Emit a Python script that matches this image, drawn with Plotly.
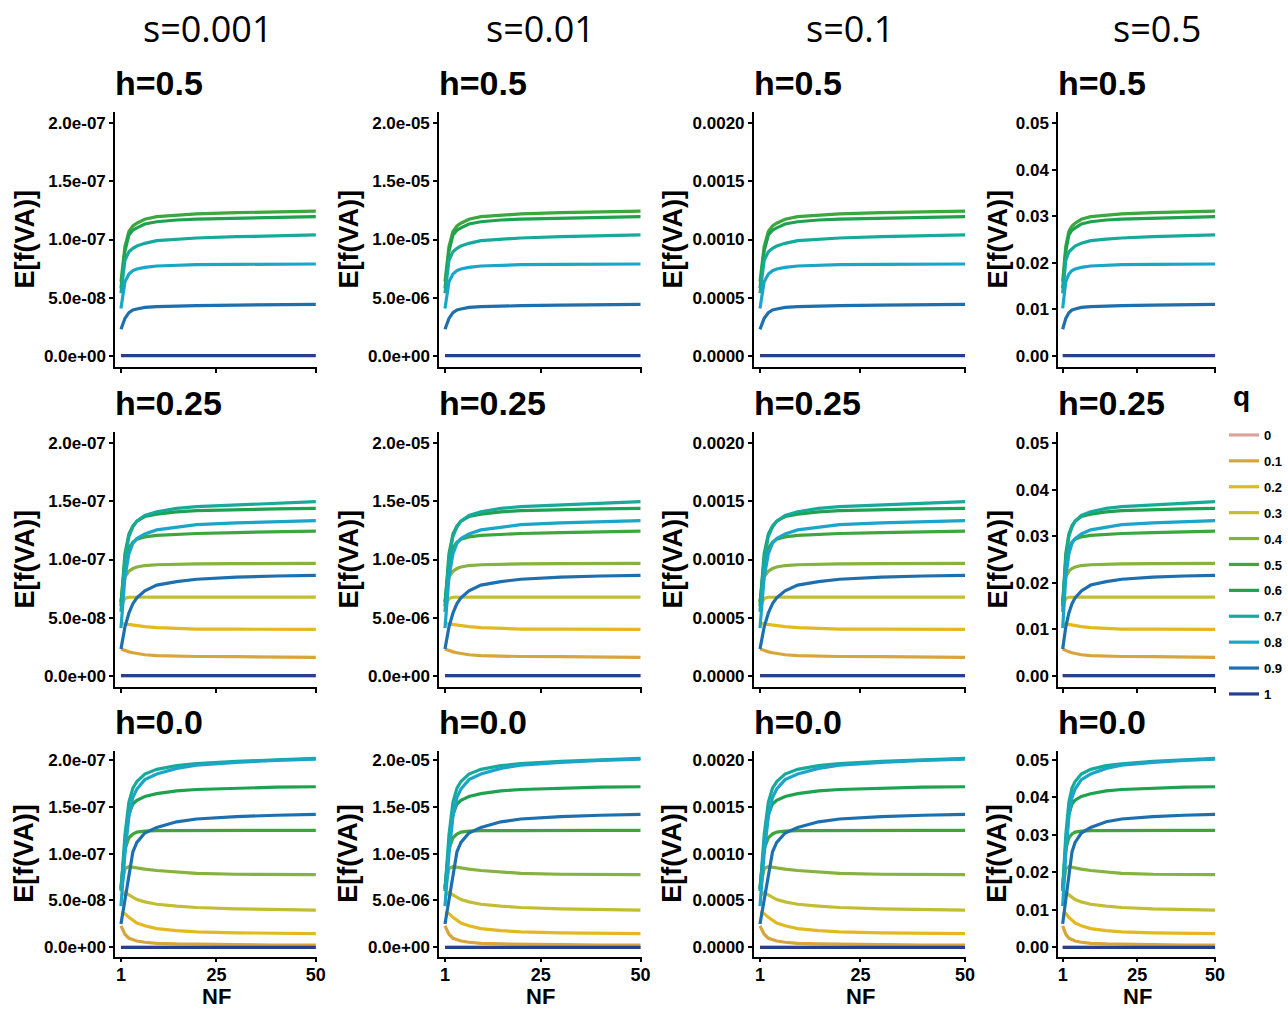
import plotly.graph_objects as go

W, H = 1288, 1010

# ---------------- data ----------------
s_labels = ["s=0.001", "s=0.01", "s=0.1", "s=0.5"]
h_labels = ["h=0.5", "h=0.25", "h=0.0"]
q_levels = ["0", "0.1", "0.2", "0.3", "0.4", "0.5", "0.6", "0.7", "0.8", "0.9", "1"]
q_colors = ["#dca39c", "#d8a53c", "#e2b920", "#c3bd33", "#86b23f", "#3da63e",
            "#1ea24f", "#17aa9a", "#1ba5c8", "#1e6fae", "#283f8f"]

# scale of each s column (value of 1 unit of the base curves)
col_scale = [1e-7, 1e-5, 1e-3, 0.025]

ytick_vals = [[0, 5e-8, 1e-7, 1.5e-7, 2e-7],
              [0, 5e-6, 1e-5, 1.5e-5, 2e-5],
              [0, 0.0005, 0.0010, 0.0015, 0.0020],
              [0, 0.01, 0.02, 0.03, 0.04, 0.05]]
ytick_text = [["0.0e+00", "5.0e-08", "1.0e-07", "1.5e-07", "2.0e-07"],
              ["0.0e+00", "5.0e-06", "1.0e-05", "1.5e-05", "2.0e-05"],
              ["0.0000", "0.0005", "0.0010", "0.0015", "0.0020"],
              ["0.00", "0.01", "0.02", "0.03", "0.04", "0.05"]]
xtick_vals = [1, 25, 50]

NF = [1, 2, 3, 4, 5, 7, 10, 15, 20, 30, 40, 50]

# base curves (units of col_scale), per h row, per q
h05 = {
    "0.5": [0.637, 0.94, 1.07, 1.116, 1.14, 1.174, 1.197, 1.211, 1.22, 1.231, 1.24, 1.245],
    "0.6": [0.58, 0.90, 1.04, 1.08, 1.10, 1.133, 1.153, 1.168, 1.176, 1.185, 1.19, 1.197],
    "0.7": [0.537, 0.82, 0.895, 0.924, 0.944, 0.967, 0.99, 1.004, 1.013, 1.024, 1.033, 1.039],
    "0.8": [0.407, 0.637, 0.703, 0.732, 0.746, 0.76, 0.772, 0.778, 0.783, 0.786, 0.789, 0.789],
    "0.9": [0.227, 0.321, 0.37, 0.393, 0.402, 0.416, 0.422, 0.428, 0.43, 0.436, 0.439, 0.442],
    "1":   [0, 0, 0, 0, 0, 0, 0, 0, 0, 0, 0, 0],
}
h025 = {
    "0":   [0, 0, 0, 0, 0, 0, 0, 0, 0, 0, 0, 0],
    "0.1": [0.23, 0.215, 0.205, 0.197, 0.19, 0.18, 0.172, 0.167, 0.165, 0.164, 0.162, 0.158],
    "0.2": [0.45, 0.445, 0.44, 0.435, 0.43, 0.422, 0.413, 0.405, 0.401, 0.40, 0.40, 0.399],
    "0.3": [0.595, 0.665, 0.675, 0.677, 0.677, 0.677, 0.677, 0.677, 0.677, 0.677, 0.677, 0.677],
    "0.4": [0.64, 0.85, 0.90, 0.922, 0.935, 0.948, 0.955, 0.96, 0.962, 0.964, 0.966, 0.967],
    "0.5": [0.63, 0.98, 1.10, 1.15, 1.175, 1.195, 1.208, 1.218, 1.224, 1.232, 1.24, 1.245],
    "0.6": [0.60, 1.05, 1.22, 1.29, 1.33, 1.37, 1.39, 1.41, 1.42, 1.43, 1.435, 1.44],
    "0.7": [0.55, 1.00, 1.20, 1.28, 1.33, 1.38, 1.41, 1.44, 1.455, 1.47, 1.485, 1.498],
    "0.8": [0.41, 0.85, 1.05, 1.14, 1.18, 1.22, 1.255, 1.28, 1.30, 1.315, 1.325, 1.334],
    "0.9": [0.23, 0.42, 0.54, 0.62, 0.67, 0.73, 0.78, 0.81, 0.83, 0.848, 0.858, 0.864],
    "1":   [0, 0, 0, 0, 0, 0, 0, 0, 0, 0, 0, 0],
}
h00 = {
    "0":   [0, 0, 0, 0, 0, 0, 0, 0, 0, 0, 0, 0],
    "0.1": [0.229, 0.14, 0.097, 0.079, 0.068, 0.054, 0.043, 0.036, 0.032, 0.029, 0.025, 0.025],
    "0.2": [0.37, 0.36, 0.32, 0.285, 0.26, 0.23, 0.20, 0.178, 0.165, 0.155, 0.15, 0.147],
    "0.3": [0.55, 0.585, 0.56, 0.53, 0.51, 0.485, 0.46, 0.44, 0.425, 0.41, 0.40, 0.397],
    "0.4": [0.62, 0.84, 0.862, 0.855, 0.845, 0.835, 0.82, 0.805, 0.79, 0.78, 0.777, 0.776],
    "0.5": [0.64, 1.05, 1.17, 1.21, 1.23, 1.24, 1.245, 1.247, 1.248, 1.248, 1.249, 1.249],
    "0.6": [0.62, 1.10, 1.42, 1.53, 1.57, 1.61, 1.64, 1.67, 1.685, 1.70, 1.71, 1.714],
    "0.7": [0.60, 1.20, 1.55, 1.70, 1.77, 1.85, 1.90, 1.94, 1.96, 1.985, 2.00, 2.018],
    "0.8": [0.44, 1.00, 1.40, 1.60, 1.69, 1.79, 1.85, 1.91, 1.945, 1.975, 1.995, 2.01],
    "0.9": [0.25, 0.50, 0.78, 1.02, 1.12, 1.22, 1.28, 1.34, 1.37, 1.395, 1.41, 1.42],
    "1":   [0, 0, 0, 0, 0, 0, 0, 0, 0, 0, 0, 0],
}
rows_data = [h05, h025, h00]

# ---------------- layout geometry (pixels) ----------------
col_px = [(115, 317), (439, 641.7), (753.7, 966.3), (1058, 1216)]
row_px = [(111.7, 367.3), (431.7, 687.3), (750.6, 956.7)]
ytitle_x = [24, 348, 672, 997]
stitle_x = [208, 540, 850, 1157]
htitle_y = [83, 403, 722]

def px_x(p): return p / W
def px_y(p): return 1 - p / H

FONT = "Liberation Sans, Arial, sans-serif"

fig = go.Figure()
layout = dict(width=W, height=H,
              margin=dict(l=0, r=0, t=0, b=0, pad=0, autoexpand=False),
              paper_bgcolor="white", plot_bgcolor="white", showlegend=True)
annotations = []
shown = set()

for r in range(3):
    for c in range(4):
        k = r * 4 + c + 1
        xa = "x" if k == 1 else f"x{k}"
        ya = "y" if k == 1 else f"y{k}"
        sc = col_scale[c]
        data = rows_data[r]
        for qi, q in enumerate(q_levels):
            if q not in data:
                continue
            vals = [v * sc for v in data[q]]
            fig.add_trace(go.Scatter(
                x=NF, y=vals, mode="lines", name=q, xaxis=xa, yaxis=ya,
                line=dict(color=q_colors[qi], width=3.2),
                legendgroup=q, legendrank=qi + 1, showlegend=(q not in shown),
                hoverinfo="skip"))
            shown.add(q)
        x0, x1 = col_px[c]
        yt, yb = row_px[r]
        axis_common = dict(showgrid=False, zeroline=False, showline=True,
                           linecolor="black", linewidth=1.5, ticks="outside",
                           ticklen=4, tickwidth=1.5, tickcolor="black",
                           automargin=False)
        layout["xaxis" if k == 1 else f"xaxis{k}"] = dict(
            domain=[px_x(x0), px_x(x1)], anchor=ya, range=[-0.5, 50.3],
            tickvals=xtick_vals, ticktext=[str(v) for v in xtick_vals],
            showticklabels=(r == 2), ticklabelstandoff=-3,
            tickfont=dict(family=FONT, size=18, color="black", weight="bold"),
            **axis_common)
        layout["yaxis" if k == 1 else f"yaxis{k}"] = dict(
            domain=[px_y(yb), px_y(yt)], anchor=xa,
            range=[-0.1 * sc, 2.1 * sc],
            tickvals=ytick_vals[c], ticktext=ytick_text[c],
            tickfont=dict(family=FONT, size=17, color="black", weight="bold"),
            **axis_common)
        # y axis title
        annotations.append(dict(
            text="E[f(VA)]", x=px_x(ytitle_x[c]), y=px_y((yt + yb) / 2),
            xref="paper", yref="paper", showarrow=False, textangle=-90,
            xanchor="center", yanchor="middle",
            font=dict(family=FONT, size=27, color="black", weight="bold")))
        # h row title
        annotations.append(dict(
            text=h_labels[r], x=px_x(x0 - 2), y=px_y(htitle_y[r]),
            xref="paper", yref="paper", showarrow=False,
            xanchor="left", yanchor="middle",
            font=dict(family=FONT, size=34, color="black", weight="bold")))
        if r == 2:
            annotations.append(dict(
                text="NF", x=px_x((x0 + x1) / 2), y=px_y(996),
                xref="paper", yref="paper", showarrow=False,
                xanchor="center", yanchor="middle",
                font=dict(family=FONT, size=22, color="black", weight="bold")))

for c in range(4):
    annotations.append(dict(
        text=s_labels[c], x=px_x(stitle_x[c]), y=px_y(28),
        xref="paper", yref="paper", showarrow=False,
        xanchor="center", yanchor="middle",
        font=dict(family="Open Sans, sans-serif", size=36, color="black")))

# legend title
annotations.append(dict(
    text="q", x=px_x(1231), y=px_y(396), xref="paper", yref="paper",
    showarrow=False, xanchor="left", yanchor="middle",
    font=dict(family=FONT, size=28, color="black", weight="bold")))

layout["annotations"] = annotations
layout["legend"] = dict(
    x=px_x(1224), y=px_y(420), xanchor="left", yanchor="top",
    font=dict(family=FONT, size=13, color="black", weight="bold"),
    tracegroupgap=6, bgcolor="rgba(0,0,0,0)")
fig.update_layout(**layout)

fig.write_html("out.html")
